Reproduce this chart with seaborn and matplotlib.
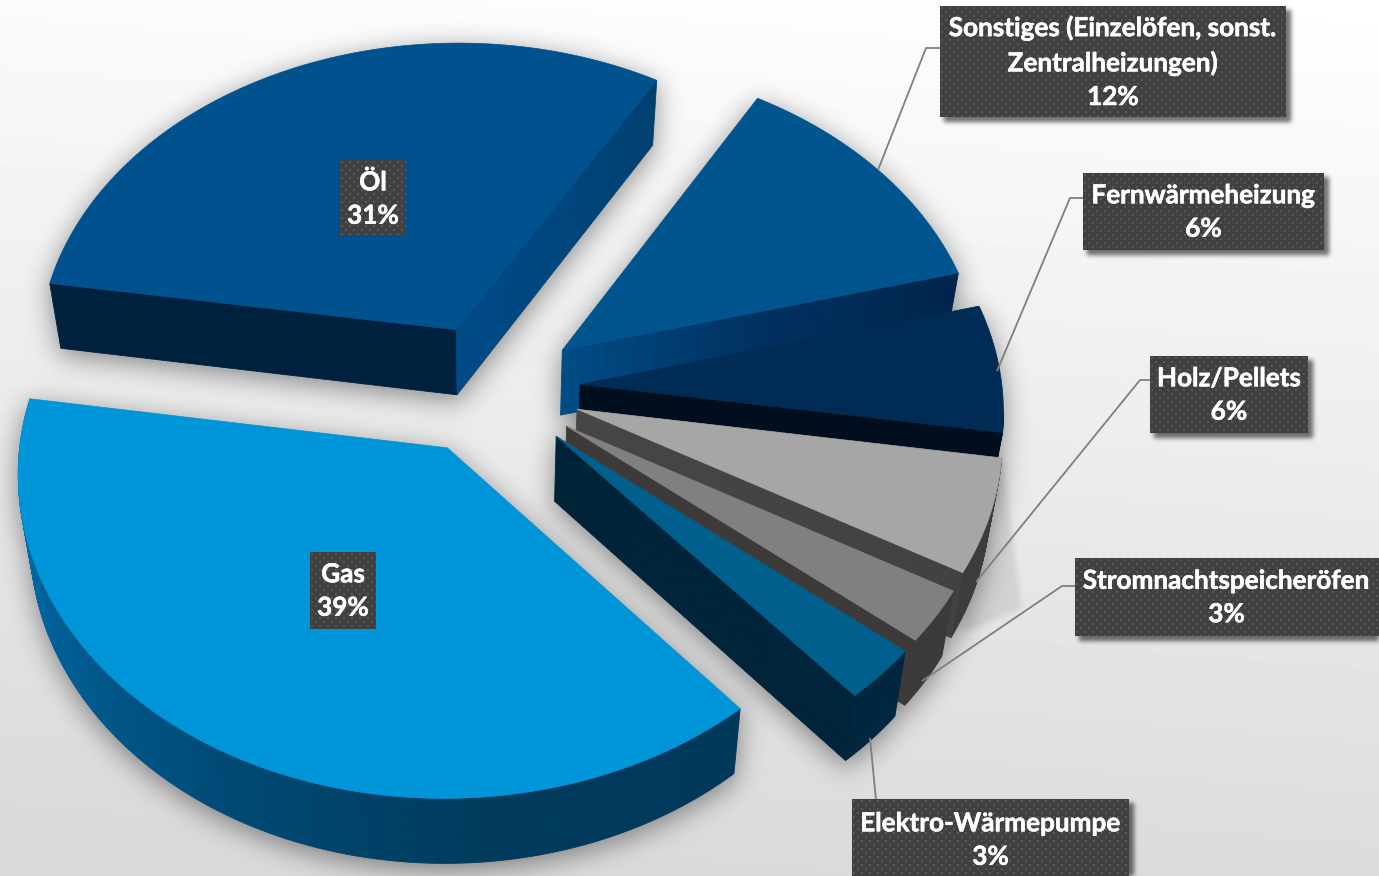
import numpy as np
import pandas as pd
import seaborn as sns
import matplotlib
matplotlib.use("Agg")
import matplotlib.pyplot as plt
import matplotlib.patheffects as pe
from matplotlib.backends.backend_agg import FigureCanvasAgg
from matplotlib.figure import Figure
from matplotlib.patches import Polygon

# Shares of heating systems, clockwise from the left
categories = ["Öl", "Sonstiges (Einzelöfen, sonst.\nZentralheizungen)", "Fernwärmeheizung",
              "Holz/Pellets", "Stromnachtspeicheröfen", "Elektro-Wärmepumpe", "Gas"]
shares = [31, 12, 6, 6, 3, 3, 39]
top_colors = ["#00528F", "#00558F", "#002B55", "#A6A6A6", "#808080", "#005F8C", "#0095D8"]

sns.set_theme(style="white")
plt.rcParams["font.family"] = ["Lato", "DejaVu Sans"]

W, H = 1379, 876
CX, CY = 492.0, 389.5
A, B, PERSP = 422.0, 316.0, 0.073
EXPLODE = 0.21
START_DEG = 190.0
DEPTH, BOTTOM_X = 65.0, 0.975

# Side-wall gradients: (end radial wall, start radial wall, outer wall), tip to rim
walls = {
    "Öl": (["#004A86", "#00467E", "#00406F"], ["#00213E", "#00213E"], ["#00406F", "#00406F"]),
    "Sonst": (["#004C85", "#003160", "#00254C"], ["#00254C", "#00254C"], ["#00254C", "#00254C"]),
    "Fern": (["#000E1E", "#000E1E"], ["#001830", "#001830"], ["#001830", "#001830"]),
    "Holz": (["#464646", "#424242"], ["#404040", "#404040"], ["#3C3C3C", "#3C3C3C"]),
    "Strom": (["#3E3A3A", "#3E3A3A"], ["#3C3C3C", "#3C3C3C"], ["#3A3A3A", "#3A3A3A"]),
    "Elektro": (["#002338", "#00253B"], ["#00253B", "#00253B"], ["#00273F", "#00273F"]),
    "Gas": (["#003A5C", "#003A5C"], ["#0075B5", "#0075B5"],
            ["#00385A", "#003A5C", "#004A75", "#005F96", "#0075B5"]),
}
wall_keys = ["Öl", "Sonst", "Fern", "Holz", "Strom", "Elektro", "Gas"]

df = pd.DataFrame({"category": categories, "share": shares, "color": top_colors, "wall": wall_keys})


def view_angle(theta):
    """Angle on the top plane as the oblique camera sees it (small bend on the right side)."""
    off = (np.degrees(theta) - 12 + 180) % 360 - 180
    return theta + np.radians(-1.2 + 3.6 * np.exp(-(off / 32) ** 2))


def project(u, v):
    """Perspective view of a point on the pie's top plane, in pixels."""
    w = 1 + PERSP * v
    return np.column_stack([CX + A * u / w, CY - B * v / w])


def lower(pts):
    """Matching points on the pie's underside."""
    out = pts.copy()
    out[:, 0] = CX + (pts[:, 0] - CX) * BOTTOM_X
    out[:, 1] = pts[:, 1] + DEPTH
    return out


def blurred_mask(polygons, sigma, dx=0.0, dy=0.0):
    """Soft alpha mask of a set of polygons given in pixel coordinates."""
    f = Figure(figsize=(W / 100, H / 100), dpi=100, facecolor="white")
    FigureCanvasAgg(f)
    a = f.add_axes([0, 0, 1, 1])
    a.set_xlim(0, W)
    a.set_ylim(H, 0)
    a.axis("off")
    for p in polygons:
        a.add_patch(Polygon(p + [dx, dy], closed=True, fc="black", ec="black", lw=1))
    f.canvas.draw()
    m = 1 - np.asarray(f.canvas.buffer_rgba())[:, :, 0].astype(float) / 255
    pad = int(4 * sigma)
    m = np.pad(m, pad, mode="constant")
    fy = np.fft.fftfreq(m.shape[0])[:, None]
    fx = np.fft.rfftfreq(m.shape[1])[None, :]
    gauss = np.exp(-2 * (np.pi * sigma) ** 2 * (fx ** 2 + fy ** 2))
    m = np.fft.irfft2(np.fft.rfft2(m) * gauss, s=m.shape)
    return np.clip(m[pad:-pad, pad:-pad], 0, 1)


def show_shadow(ax, mask, alpha):
    img = np.zeros((H, W, 4))
    img[:, :, 3] = mask * alpha
    ax.imshow(img, extent=(0, W, H, 0), aspect="auto", interpolation="bilinear")


def strip(ax, a_pts, colors):
    """Wall along a polyline, shaded segment by segment."""
    b_pts = lower(a_pts)
    pal = sns.blend_palette(colors, len(a_pts) - 1)
    for i in range(len(a_pts) - 1):
        quad = np.vstack([a_pts[i], a_pts[i + 1], b_pts[i + 1], b_pts[i]])
        ax.add_patch(Polygon(quad, closed=True, fc=pal[i], ec=pal[i], lw=0.6))


# Geometry of every slice, taken from its share of the whole
fractions = df["share"].to_numpy() / df["share"].sum()
edges = START_DEG + np.concatenate([[0], np.cumsum(fractions)]) * 360
slices = []
for i, row in df.iterrows():
    lo, hi = np.radians(edges[i]), np.radians(edges[i + 1])
    mid = (lo + hi) / 2
    ou, ov = EXPLODE * np.cos(mid), -EXPLODE * np.sin(mid)
    th = view_angle(np.linspace(lo, hi, max(int(np.degrees(hi - lo)), 8) * 2))
    arc = project(ou + np.cos(th), ov - np.sin(th))
    s = np.linspace(0, 1, 40)
    tip = project(np.array([ou]), np.array([ov]))
    spoke_a = project(ou + s * np.cos(th[0]), ov - s * np.sin(th[0]))
    spoke_b = project(ou + s * np.cos(th[-1]), ov - s * np.sin(th[-1]))
    slices.append(dict(tip=tip, arc=arc, spoke_a=spoke_a, spoke_b=spoke_b,
                       top=np.vstack([tip, arc]), color=row["color"], wall=row["wall"]))

fig = plt.figure(figsize=(W / 100, H / 100), dpi=100)
ax = fig.add_axes([0, 0, 1, 1])

# Page background
yy, xx = np.mgrid[0:1:200j, 0:1:200j]
shade = 1.0 - 0.145 * np.clip(0.95 * yy + 0.12 * (1 - xx), 0, 1)
ax.imshow(shade, extent=(0, W, H, 0), cmap="gray", vmin=0, vmax=1, aspect="auto", interpolation="bilinear")

# Drop shadow below the whole pie, with the long soft cast beside the wood slice
outline = []
for sl in slices:
    outline += [sl["top"], lower(sl["top"])]
    for key in ("spoke_a", "spoke_b", "arc"):
        p = sl[key]
        outline.append(np.vstack([p, lower(p)[::-1]]))
show_shadow(ax, blurred_mask(outline, 13, 0, 6), 0.42)
holz_arc = slices[3]["arc"]
cast = np.vstack([holz_arc[0], holz_arc[0] + [19, 150], holz_arc[-1] + [0, 60], holz_arc[-1]])
show_shadow(ax, blurred_mask([cast], 3), 0.09)

# Back to front: visible walls first, the top face over them
for sl in slices:
    wall_end, wall_start, wall_outer = walls[sl["wall"]]
    # Perimeter runs tip > start edge > rim > end edge > tip; walls heading left face the viewer
    if sl["spoke_a"][-1, 0] < sl["spoke_a"][0, 0]:
        strip(ax, sl["spoke_a"], wall_start)
    arc = sl["arc"]
    heading_left = np.diff(arc[:, 0]) < 0
    if heading_left.any():
        first = np.argmax(heading_left)
        strip(ax, arc[first:], wall_outer)
    if sl["spoke_b"][-1, 0] > sl["spoke_b"][0, 0]:
        strip(ax, sl["spoke_b"], wall_end)
    ax.add_patch(Polygon(sl["top"], closed=True, fc=sl["color"], ec=sl["color"], lw=0.5))

# Leader lines
leaders = [
    [(878, 170), (926, 48), (940, 48)],
    [(997, 371), (1070, 198), (1084, 198)],
    [(976, 582), (1140, 380), (1150, 380)],
    [(922, 681), (1062, 586), (1076, 586)],
    [(870, 738), (876, 800)],
]
for pts in leaders:
    xs, ys = zip(*pts)
    ax.plot(xs, ys, color="#7F7F7F", lw=1.3, solid_capstyle="butt")

# Label boxes, pixel bounds paired with the categories
boxes = {
    "Öl": (340, 160, 406, 236),
    "Gas": (310, 552, 376, 629),
    "Sonstiges (Einzelöfen, sonst.\nZentralheizungen)": (940, 6, 1286, 117),
    "Fernwärmeheizung": (1083, 173, 1324, 250),
    "Holz/Pellets": (1150, 356, 1308, 433),
    "Stromnachtspeicheröfen": (1075, 558, 1382, 636),
    "Elektro-Wärmepumpe": (852, 799, 1129, 880),
}
rects = [np.array([(x0, y0), (x1, y0), (x1, y1), (x0, y1)], float) for x0, y0, x1, y1 in boxes.values()]
show_shadow(ax, blurred_mask(rects, 2.2, 4, 4), 0.55)


def dotted_texture(w, h):
    tex = np.full((h, w, 3), 0x40 / 255)
    for row in range(1, h, 4):
        off = 1 if (row // 4) % 2 == 0 else 5
        for c in range(off, w, 8):
            tex[row:row + 2, c:c + 2] = 0x58 / 255
    return tex


for _, row in df.iterrows():
    x0, y0, x1, y1 = boxes[row["category"]]
    ax.imshow(dotted_texture(x1 - x0, y1 - y0), extent=(x0, x1, y1, y0), aspect="auto",
              interpolation="nearest", zorder=5)
    ax.text((x0 + min(x1, W - 1)) / 2, (y0 + y1) / 2 + 0.5,
            f"{row['category']}\n{row['share']}%", ha="center", va="center", color="white",
            fontsize=18.8, fontweight="bold", linespacing=1.47, zorder=6,
            path_effects=[pe.withStroke(linewidth=0.4, foreground="white")])

ax.set_xlim(0, W)
ax.set_ylim(H, 0)
ax.axis("off")
fig.savefig("out.png", dpi=100)
